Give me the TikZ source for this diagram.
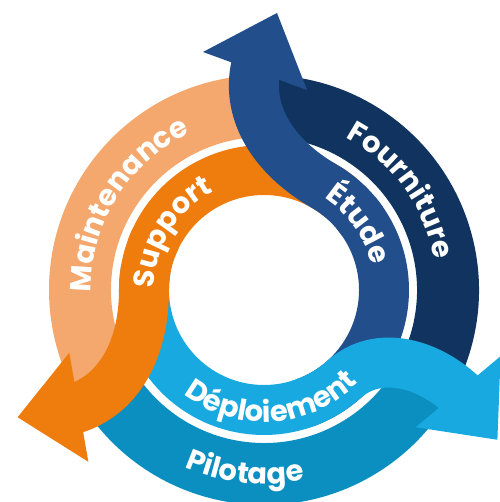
\documentclass[tikz,border=0pt]{standalone}
\usepackage{fontspec}
\newfontfamily\cyclefont{Poppins}
\usetikzlibrary{decorations.text}

\definecolor{navy}{HTML}{10345F}
\definecolor{midblue}{HTML}{234E8C}
\definecolor{peach}{HTML}{F4A86E}
\definecolor{orangeband}{HTML}{EE7D0E}
\definecolor{tealband}{HTML}{0B8FC0}
\definecolor{skyband}{HTML}{17A9DF}

\begin{document}
\begin{tikzpicture}[x=0.02cm,y=0.02cm,
    outerband/.style={line width=1.24cm},
    innerband/.style={line width=1cm},
    bandtext/.style={decorate,decoration={text along path,text align=center,
        text color=white,text={|\cyclefont\bfseries\fontsize{16.5}{16.5}\selectfont|#1}}}]

  \useasboundingbox (-264,-212) rectangle (235,290);

  % outer rings
  \foreach \rot/\col in {0/navy,120/peach,240/tealband}
    \draw[outerband,\col,rotate=\rot] (-27:184) arc[start angle=-27,end angle=93,radius=184];

  % inner rings
  \foreach \rot/\col/\s in {0/midblue/60,120/orangeband/60,240/skyband/72}
    \draw[innerband,\col,rotate=\rot] (-70:120) arc[start angle=-70,end angle=\s-20,radius=120];

  % the twisted arrows
  \foreach \rot/\col/\s/\a in {0/midblue/60/60,120/orangeband/60/60,240/skyband/72/45}
  {
    \begin{scope}[rotate=\rot]
      \draw[innerband,\col] (\s-25:120) arc[start angle=\s-25,end angle=\s,radius=120]
        .. controls +(\s+90:\a) and +(255:50) .. (-7,228);
      \fill[\col] (-61,238) -- (13,277) -- (43,200) -- cycle;
    \end{scope}
  }

  % the texts
  \path[bandtext=Fourniture] (80:173) arc[start angle=80,end angle=-8,radius=173];
  \path[bandtext=Étude] (80:110) arc[start angle=80,end angle=-10,radius=110];
  \path[bandtext=Maintenance] (192:173) arc[start angle=192,end angle=104,radius=173];
  \path[bandtext=Support] (192:110) arc[start angle=192,end angle=104,radius=110];
  \path[bandtext=Déploiement] (229:132) arc[start angle=229,end angle=319,radius=132];
  \path[bandtext=Pilotage] (219:194) arc[start angle=219,end angle=309,radius=194];

\end{tikzpicture}
\end{document}
